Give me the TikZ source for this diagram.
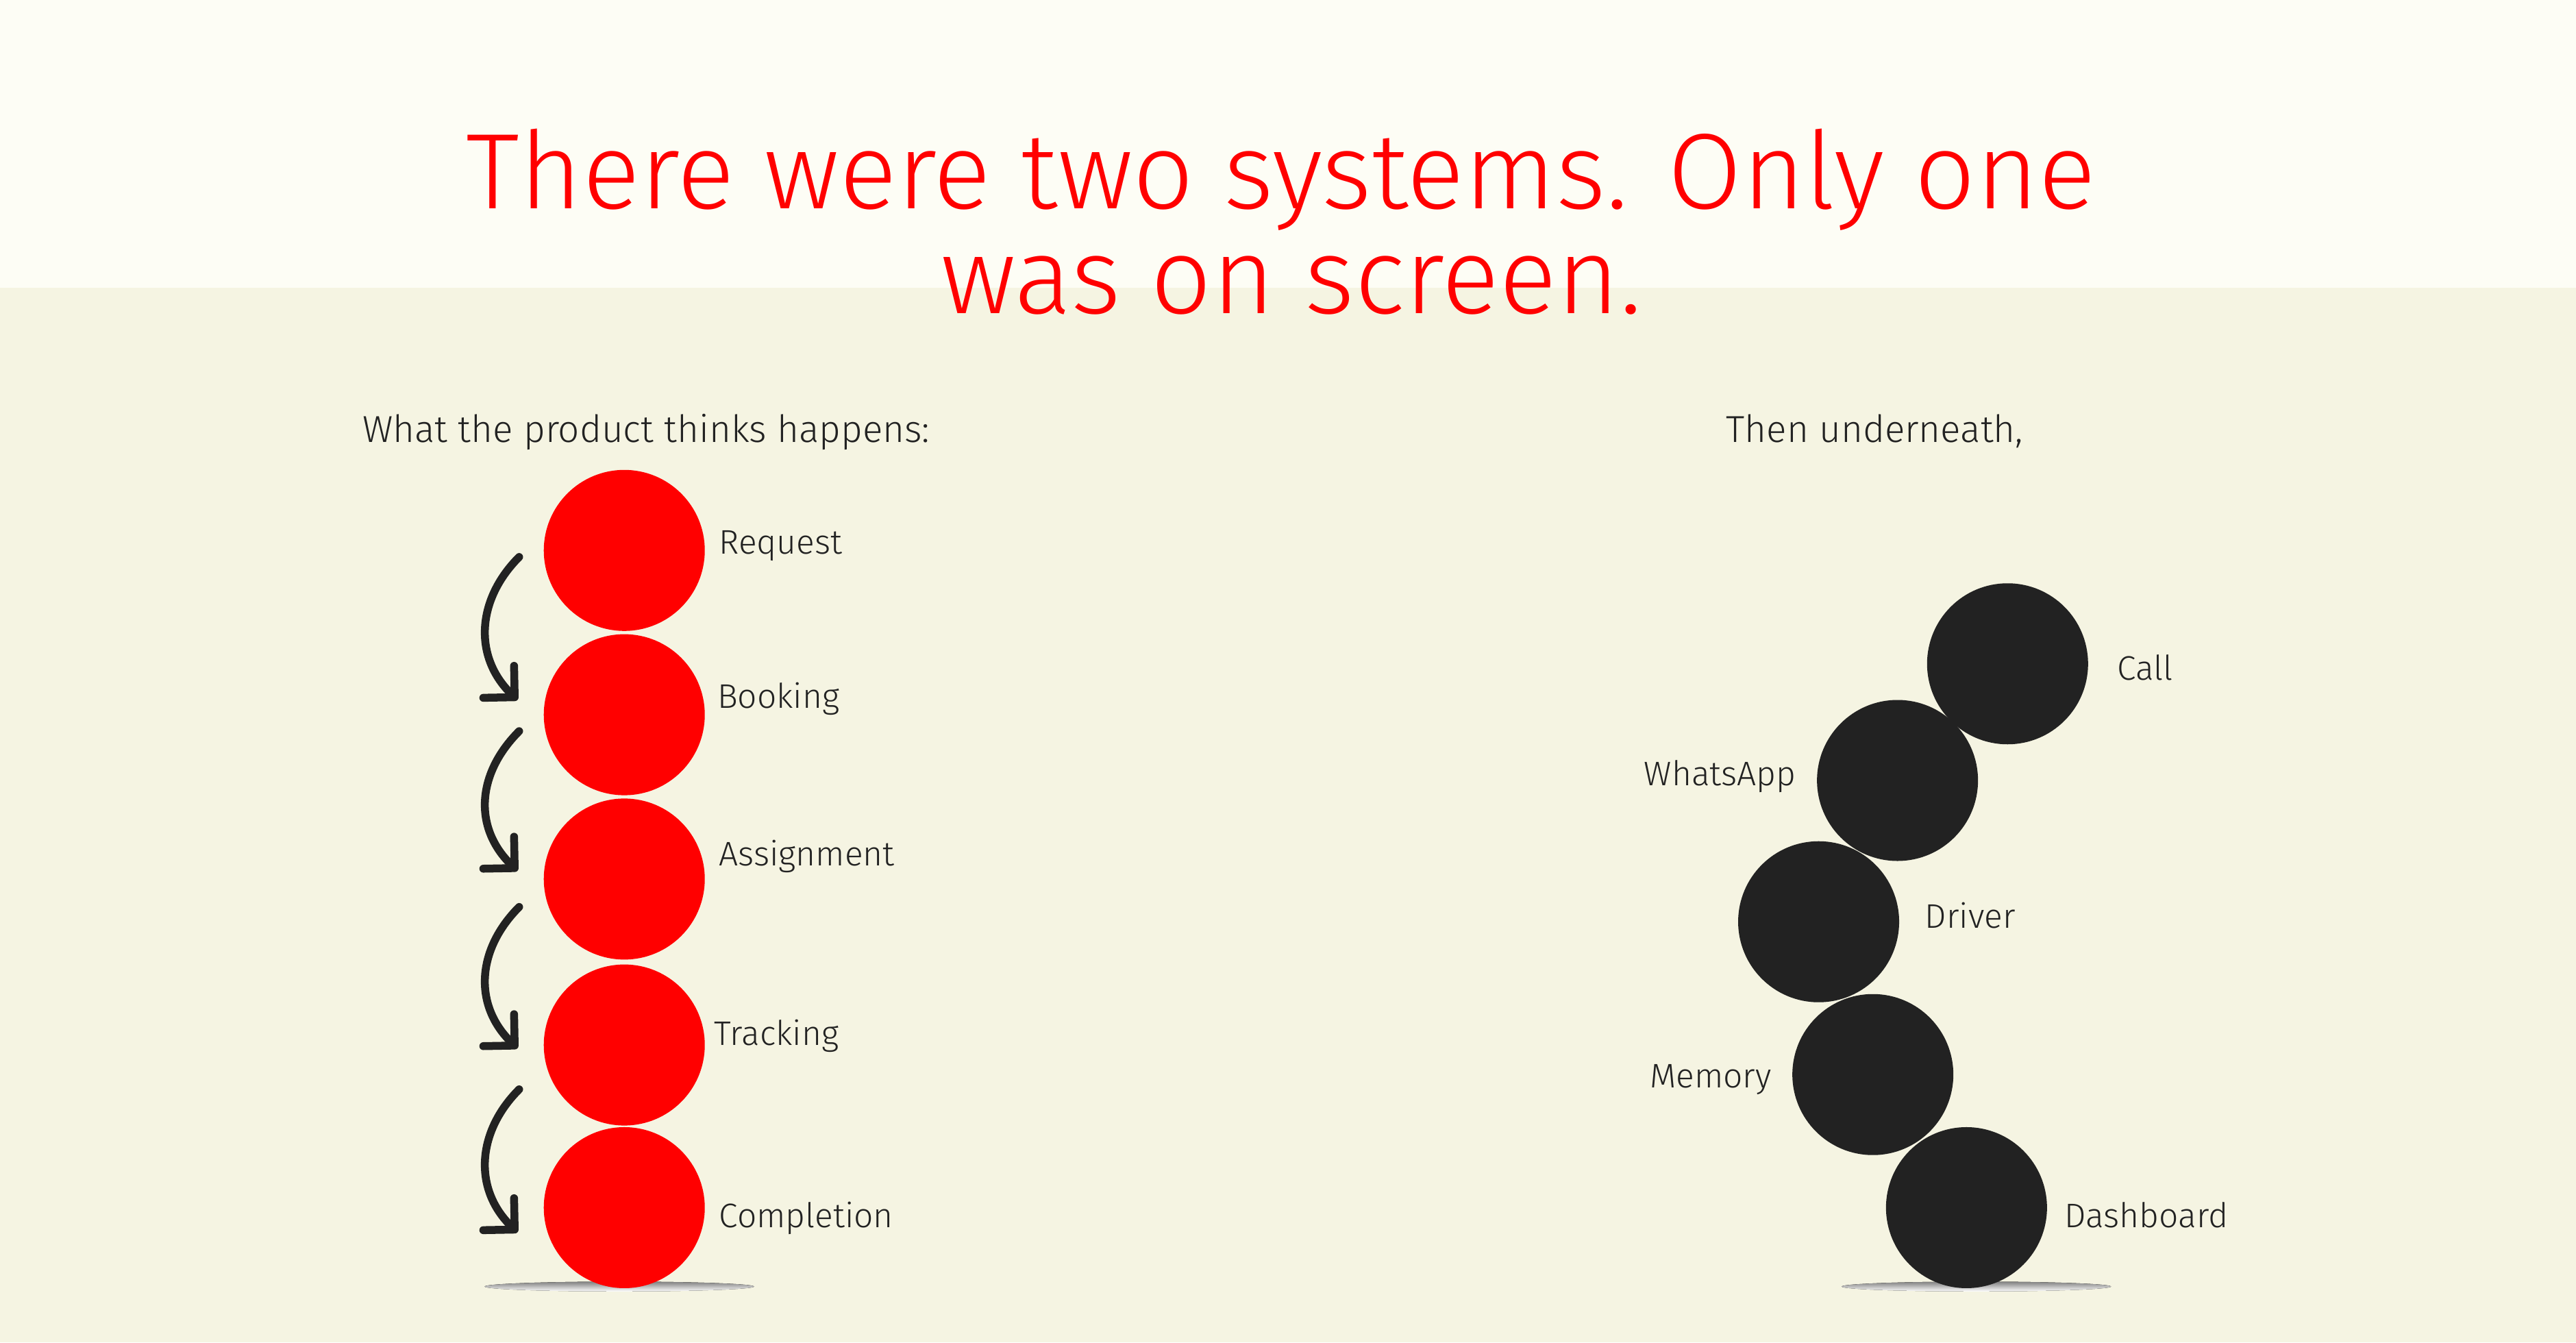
\documentclass[tikz,border=0pt]{standalone}
\usepackage{fontspec}
\setmainfont{Fira Sans}[UprightFont=* Light]
\usetikzlibrary{arrows.meta}
\definecolor{pagetop}{HTML}{FDFDF5}
\definecolor{pagebg}{HTML}{F5F4E2}
\definecolor{ink}{HTML}{222222}
\definecolor{shade}{HTML}{DCDCDA}
\tikzset{
  ball/.style={circle,inner sep=0pt,minimum size=9.8mm},
  redball/.style={ball,fill=red},
  inkball/.style={ball,fill=ink},
  lbl/.style={text=ink,inner sep=0pt,font=\fontsize{5.9}{7}\selectfont},
  headline/.style={text=ink,inner sep=0pt,anchor=base west,font=\fontsize{6.5}{8}\selectfont},
  flow/.style={ink,line width=0.48mm,line cap=round,
    -{Straight Barb[round,length=1.35mm,width=2.7mm]}},
}
\begin{document}
\begin{tikzpicture}[x=0.1mm,y=-0.1mm]
  \useasboundingbox (0,0) rectangle (1568,817);
  \fill[pagetop] (0,0) rectangle (1568,175);
  \fill[pagebg] (0,175) rectangle (1568,817);
  \node[text=red,inner sep=0pt,anchor=base,font=\fontsize{18.6}{18.6}\selectfont]
        (title1) at (780,127) {There were two systems. Only one};
  \node[text=red,inner sep=0pt,anchor=base,font=\fontsize{18.6}{18.6}\selectfont]
        (title2) at (786,191) {was on screen.};
  \node[headline] (lefthead) at (220,269) {What the product thinks happens:};
  \node[headline] (righthead) at (1050,269) {Then underneath,};
  \begin{scope}
    \fill[shade] (377,783) ellipse [x radius=82, y radius=3];
    \node[redball] (req) at (380,335) {};
    \node[redball] (book) at (380,435) {};
    \node[redball] (assign) at (380,535) {};
    \node[redball] (track) at (380,636) {};
    \node[redball] (compl) at (380,735) {};
    \node[lbl,anchor=base west] (reqlbl) at (437,337) {Request};
    \node[lbl,anchor=base west] (booklbl) at (436,431) {Booking};
    \node[lbl,anchor=base west] (assignlbl) at (437,527) {Assignment};
    \node[lbl,anchor=base west] (tracklbl) at (434,636) {Tracking};
    \node[lbl,anchor=base west] (compllbl) at (437,747) {Completion};
    \draw[flow] ([shift={(-64,4)}]req.center) .. controls +(-26,26) and +(-27,-26)
          .. ([shift={(-65,-9)}]book.center);
    \draw[flow] ([shift={(-64,10)}]book.center) .. controls +(-26,26) and +(-27,-26)
          .. ([shift={(-65,-5)}]assign.center);
    \draw[flow] ([shift={(-64,17)}]assign.center) .. controls +(-26,26) and +(-27,-26)
          .. ([shift={(-65,2)}]track.center);
    \draw[flow] ([shift={(-64,27)}]track.center) .. controls +(-26,26) and +(-27,-26)
          .. ([shift={(-65,15)}]compl.center);
  \end{scope}
  \begin{scope}
    \fill[shade] (1203,783) ellipse [x radius=82, y radius=3];
    \node[inkball] (call) at (1222,404) {};
    \node[inkball] (whatsapp) at (1155,475) {};
    \node[inkball] (driver) at (1107,561) {};
    \node[inkball] (memory) at (1140,654) {};
    \node[inkball] (dash) at (1197,735) {};
    \node[lbl,anchor=base west] (calllbl) at (1288,414) {Call};
    \node[lbl,anchor=base east] (whatsapplbl) at (1094,478) {WhatsApp};
    \node[lbl,anchor=base west] (driverlbl) at (1171,565) {Driver};
    \node[lbl,anchor=base east] (memorylbl) at (1079,662) {Memory};
    \node[lbl,anchor=base west] (dashlbl) at (1256,747) {Dashboard};
  \end{scope}
\end{tikzpicture}
\end{document}
